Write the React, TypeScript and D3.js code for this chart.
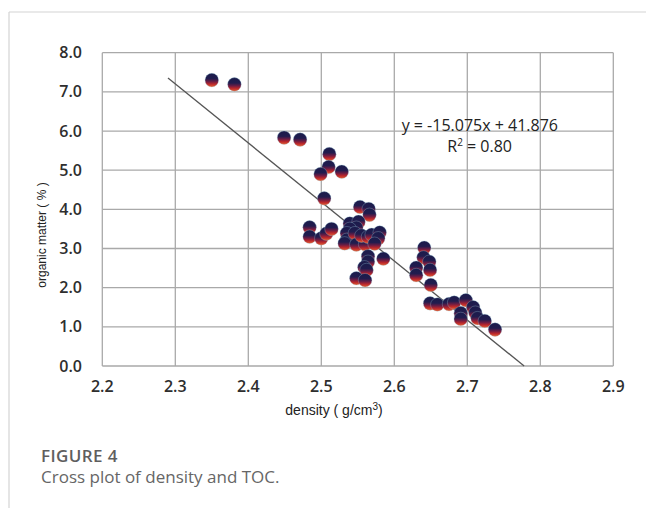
import React from "react";
import * as d3 from "d3";

// Density (g/cm³) and organic matter (%) of each sample
const density = [
  2.350, 2.381, 2.449, 2.471, 2.511, 2.510, 2.499, 2.528, 2.504, 2.553,
  2.565, 2.566, 2.539, 2.551, 2.548, 2.539, 2.484, 2.484, 2.500, 2.507,
  2.514, 2.535, 2.535, 2.532, 2.546, 2.548, 2.560, 2.555, 2.564, 2.569,
  2.580, 2.578, 2.573, 2.564, 2.564, 2.585, 2.559, 2.562, 2.548, 2.560,
  2.641, 2.640, 2.648, 2.630, 2.630, 2.649, 2.650, 2.649, 2.659, 2.675,
  2.682, 2.698, 2.708, 2.711, 2.691, 2.691, 2.714, 2.724, 2.738,
];
const organicMatter = [
  7.30, 7.19, 5.83, 5.78, 5.41, 5.08, 4.90, 4.96, 4.28, 4.06,
  4.01, 3.86, 3.64, 3.68, 3.53, 3.50, 3.54, 3.30, 3.26, 3.38,
  3.50, 3.39, 3.22, 3.13, 3.39, 3.10, 3.11, 3.33, 3.30, 3.35,
  3.41, 3.26, 3.12, 2.80, 2.66, 2.74, 2.52, 2.45, 2.24, 2.19,
  3.02, 2.77, 2.66, 2.51, 2.32, 2.45, 2.07, 1.60, 1.57, 1.58,
  1.62, 1.68, 1.50, 1.36, 1.35, 1.20, 1.22, 1.15, 0.93,
];

// Linear fit shown on the chart
const slope = -15.075;
const intercept = 41.876;
const fitStart = 2.29;

const xTicks = [2.2, 2.3, 2.4, 2.5, 2.6, 2.7, 2.8, 2.9];
const yTicks = [0, 1, 2, 3, 4, 5, 6, 7, 8];

export default function App() {
  const W = 646;
  const H = 508;
  const x = d3.scaleLinear().domain([2.2, 2.9]).range([102.3, 613.3]);
  const y = d3.scaleLinear().domain([0, 8]).range([366, 52.7]);

  const fitEnd = -intercept / slope;
  const fitLine = d3
    .line<number>()
    .x((d) => x(d))
    .y((d) => y(slope * d + intercept))([fitStart, fitEnd]);

  const points = density.map((d, i) => ({ d, v: organicMatter[i] }));
  const grid = "#a9a9a9";
  const tickFont = "'Open Sans', sans-serif";
  const arial = "'Liberation Sans', Arial, sans-serif";

  return (
    <svg
      width={W}
      height={H}
      style={{ position: "absolute", left: 0, top: 0, background: "#fff" }}
    >
      <defs>
        <linearGradient id="dotFill" x1="0" y1="0" x2="0" y2="1">
          <stop offset="0%" stopColor="#1a1b4b" />
          <stop offset="40%" stopColor="#211c4e" />
          <stop offset="60%" stopColor="#6a1c44" />
          <stop offset="78%" stopColor="#b8262c" />
          <stop offset="100%" stopColor="#e35e32" />
        </linearGradient>
      </defs>

      {/* page frame */}
      <line x1={9} y1={12} x2={W} y2={12} stroke="#d4d4d4" strokeWidth={1.2} />
      <line x1={9} y1={12} x2={9} y2={H} stroke="#d4d4d4" strokeWidth={1.2} />

      {/* grid */}
      {xTicks.map((t) => (
        <line key={"gx" + t} x1={x(t)} x2={x(t)} y1={y(8)} y2={y(0)} stroke={grid} strokeWidth={1.3} />
      ))}
      {yTicks.map((t) => (
        <line key={"gy" + t} x1={x(2.2)} x2={x(2.9)} y1={y(t)} y2={y(t)} stroke={grid} strokeWidth={1.3} />
      ))}

      {/* tick labels */}
      {yTicks.map((t) => (
        <text key={"ty" + t} x={82} y={y(t) + 5.5} textAnchor="end" fontFamily={tickFont} fontSize={16} fontWeight={600} fill="#2e2e2e">
          {t.toFixed(1)}
        </text>
      ))}
      {xTicks.map((t) => (
        <text key={"tx" + t} x={x(t)} y={392} textAnchor="middle" fontFamily={tickFont} fontSize={16} fontWeight={600} fill="#2e2e2e">
          {t.toFixed(1)}
        </text>
      ))}

      {/* axis titles */}
      <text x={334} y={415} textAnchor="middle" fontFamily={arial} fontSize={14} fill="#222">
        density ( g/cm<tspan dy={-5} fontSize={10}>3</tspan>
        <tspan dy={5}>)</tspan>
      </text>
      <text
        transform="translate(46,235) rotate(-90)"
        textAnchor="middle"
        fontFamily={arial}
        fontSize={12}
        fill="#222"
      >
        organic matter ( % )
      </text>

      {/* fit line */}
      <path d={fitLine ?? ""} fill="none" stroke="#555" strokeWidth={1.3} />

      {/* samples */}
      {points.map((p, i) => (
        <circle
          key={i}
          cx={x(p.d)}
          cy={y(p.v)}
          r={6.8}
          fill="url(#dotFill)"
          stroke="#9ccfe0"
          strokeOpacity={0.5}
          strokeWidth={0.6}
        />
      ))}

      {/* fit equation */}
      <text x={558} y={131} textAnchor="end" fontFamily={tickFont} fontSize={16} fill="#222">
        {`y = ${slope.toFixed(3)}x + ${intercept.toFixed(3)}`}
      </text>
      <text x={512} y={152} textAnchor="end" fontFamily={tickFont} fontSize={16} fill="#222">
        R<tspan dy={-6} fontSize={10}>2</tspan>
        <tspan dy={6}> = 0.80</tspan>
      </text>

      {/* caption */}
      <text x={41} y={462} fontFamily={tickFont} fontSize={17} fontWeight={600} letterSpacing={0.4} fill="#5e5e5e">
        FIGURE 4
      </text>
      <text x={41} y={483} fontFamily={tickFont} fontSize={17} fill="#666">
        Cross plot of density and TOC.
      </text>
    </svg>
  );
}
